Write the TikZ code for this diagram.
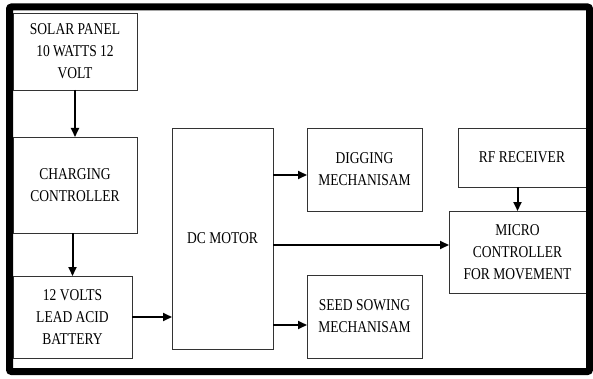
\documentclass[tikz,border=0pt]{standalone}
\usepackage{fontspec}
\setmainfont{Liberation Serif}[FakeStretch=0.82]
\usetikzlibrary{arrows.meta,calc}
\begin{document}
\begin{tikzpicture}[x=1pt,y=-1pt,
  box/.style={draw=black!80,line width=0.8pt,inner sep=0pt,outer sep=0pt,
    align=center,font=\fontsize{16.5}{22}\selectfont},
  arr/.style={line width=2pt,-{Triangle[length=9pt,width=8pt]}}]
\useasboundingbox (0,0) rectangle (593,379);
\fill[white] (0,0) rectangle (593,379);
% blocks
\node[box,minimum width=124pt,minimum height=77pt] (solar) at (75,51.5) {SOLAR PANEL\\10 WATTS 12\\VOLT};
\node[box,minimum width=124pt,minimum height=96pt] (charging) at (75,185) {CHARGING\\CONTROLLER};
\node[box,minimum width=119pt,minimum height=82pt] (battery) at (72.5,317) {12 VOLTS\\LEAD ACID\\BATTERY};
\node[box,minimum width=101pt,minimum height=221pt] (dc) at (222.5,238.5) {\raisebox{-6pt}{DC MOTOR}};
\node[box,minimum width=115pt,minimum height=83pt] (digging) at (364.5,169.5) {\raisebox{-4pt}{\parbox{110pt}{\centering DIGGING\\MECHANISAM}}};
\node[box,minimum width=115pt,minimum height=83pt] (seed) at (364.5,316.5) {\raisebox{-4pt}{\parbox{110pt}{\centering SEED SOWING\\MECHANISAM}}};
\node[box,minimum width=128pt,minimum height=59pt] (rf) at (522,157.5) {\raisebox{-9pt}{RF RECEIVER}};
\node[box,minimum width=137pt,minimum height=82pt] (micro) at (517.5,252) {MICRO\\CONTROLLER\\FOR MOVEMENT};
% connectors
\draw[arr] (solar.south) -- (charging.north);
\draw[arr] (charging.south -| battery.north) -- (battery.north);
\draw[arr] (battery.east) -- (battery.east -| dc.west);
\coordinate (dg) at ([yshift=-5.5pt]digging.west);
\draw[arr] (dc.east |- dg) -- (dg);
\coordinate (mi) at ([yshift=7pt]micro.west);
\draw[arr] (dc.east |- mi) -- (mi);
\coordinate (sd) at ([yshift=-8.5pt]seed.west);
\draw[arr] (dc.east |- sd) -- (sd);
\draw[arr] (rf.south -| micro.north) -- (micro.north);
% frame
\draw[line width=7pt,rounded corners=2pt] (9.5,7) rectangle (589.5,371.5);
\end{tikzpicture}
\end{document}
